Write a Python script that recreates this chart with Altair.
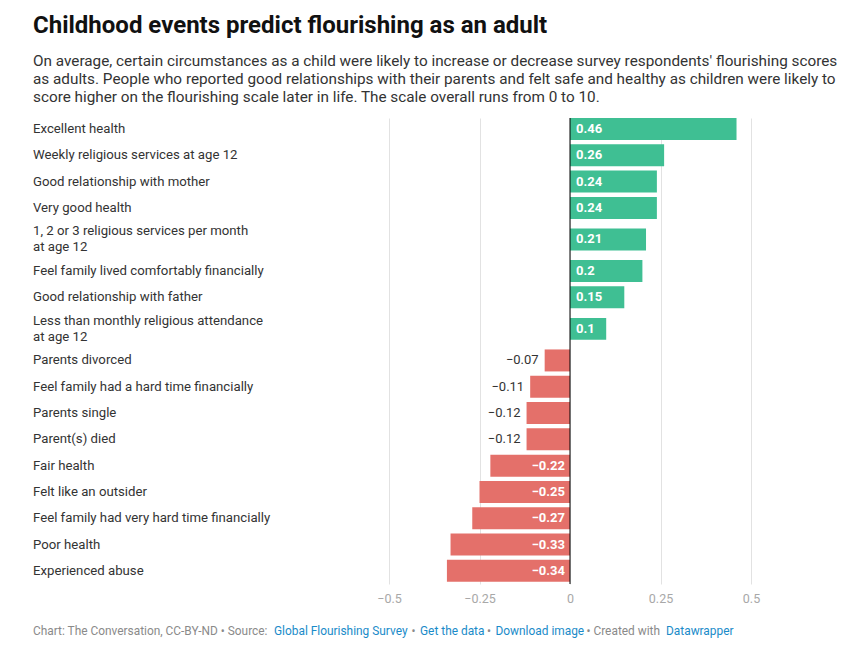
import altair as alt
import pandas as pd

# ---------------- data ----------------
categories = [
    "Excellent health",
    "Weekly religious services at age 12",
    "Good relationship with mother",
    "Very good health",
    "1, 2 or 3 religious services per month\nat age 12",
    "Feel family lived comfortably financially",
    "Good relationship with father",
    "Less than monthly religious attendance\nat age 12",
    "Parents divorced",
    "Feel family had a hard time financially",
    "Parents single",
    "Parent(s) died",
    "Fair health",
    "Felt like an outsider",
    "Feel family had very hard time financially",
    "Poor health",
    "Experienced abuse",
]
values = [0.46, 0.26, 0.24, 0.24, 0.21, 0.2, 0.15, 0.1,
          -0.07, -0.11, -0.12, -0.12, -0.22, -0.25, -0.27, -0.33, -0.34]
x_ticks = [-0.5, -0.25, 0, 0.25, 0.5]

title_text = "Childhood events predict flourishing as an adult"
subtitle_lines = [
    "On average, certain circumstances as a child were likely to increase or decrease survey respondents' flourishing scores",
    "as adults. People who reported good relationships with their parents and felt safe and healthy as children were likely to",
    "score higher on the flourishing scale later in life. The scale overall runs from 0 to 10.",
]
footer_texts = [
    "Chart: The Conversation, CC-BY-ND \u2022 Source:",
    "Global Flourishing Survey",
    "\u2022",
    "Get the data",
    "\u2022",
    "Download image",
    "\u2022 Created with",
    "Datawrapper",
]

# ---------------- styling / layout ----------------
FONT = "Roboto"
GREEN = "#3fbf93"
RED = "#e4706a"
GRAY_TEXT = "#8a8a8a"
LINK = "#1a8bc9"
PLOT_X0, PLOT_Y0 = 389, 118  # page position of the plot origin
W, H = 362, 466
FOOTER_Y = 635
SVG_H = 631
EXTRA_LINE = 0.4    # extra row height (in row units) per additional label line
BAR_HALF = 0.418    # half bar thickness in row units
LINE_H = 16

footer_layout = [  # (page x, colour) for each footer piece
    (33, GRAY_TEXT), (274, LINK), (411.5, GRAY_TEXT), (420, LINK),
    (487, GRAY_TEXT), (495.5, LINK), (586.5, GRAY_TEXT), (666, LINK),
]

df = pd.DataFrame({"cat": categories, "value": values})
total_units = sum(1 + EXTRA_LINE * c.count("\n") for c in categories)

y_scale = alt.Scale(domain=[0.5 - BAR_HALF, total_units], reverse=True, nice=False, zero=False)

base = alt.Chart(df).transform_calculate(
    nlines="length(split(datum.cat, '\\n'))",
).transform_calculate(
    h=f"1 + {EXTRA_LINE} * (datum.nlines - 1)",
).transform_window(
    cum="sum(h)", frame=[None, 0],
).transform_calculate(
    center="datum.cum - datum.h / 2",
    top=f"datum.cum - datum.h / 2 - {BAR_HALF}",
    bottom=f"datum.cum - datum.h / 2 + {BAR_HALF}",
)

x_enc = alt.X(
    "value:Q",
    scale=alt.Scale(domain=[-0.5, 0.5], nice=False, zero=False),
    axis=alt.Axis(
        title=None, values=x_ticks, grid=True, gridColor="#e2e2e2", gridWidth=1,
        domain=False, ticks=False, tickSize=0, labelFont=FONT, labelFontSize=12.5,
        labelColor="#a8a8a8", labelPadding=8, labelFlush=False, format=".2~f",
    ),
)
y_center = alt.Y("center:Q", scale=y_scale, axis=None)

bars = base.mark_bar().encode(
    x=x_enc,
    x2=alt.datum(0),
    y=alt.Y("top:Q", scale=y_scale, axis=None),
    y2="bottom:Q",
    color=alt.condition("datum.value >= 0", alt.value(GREEN), alt.value(RED)),
)

cat_labels_1 = base.transform_filter("datum.nlines == 1").mark_text(
    align="left", baseline="middle", font=FONT, fontSize=13.2, color="#333333",
).encode(x=alt.value(33 - PLOT_X0), y=y_center, text="cat:N")

cat_labels_2 = base.transform_filter("datum.nlines > 1").mark_text(
    align="left", baseline="middle", font=FONT, fontSize=13.2, color="#333333",
    lineBreak="\n", lineHeight=LINE_H, dy=-LINE_H / 2,
).encode(x=alt.value(33 - PLOT_X0), y=y_center, text="cat:N")

pos_labels = base.transform_filter("datum.value >= 0").mark_text(
    align="left", dx=6, font=FONT, fontSize=13, fontWeight="bold", color="white"
).encode(x=alt.datum(0), y=y_center, text=alt.Text("value:Q", format=".2~f"))

neg_in_labels = base.transform_filter("datum.value < -0.15").mark_text(
    align="right", dx=-5, font=FONT, fontSize=13, fontWeight="bold", color="white"
).encode(x=alt.datum(0), y=y_center, text=alt.Text("value:Q", format=".2~f"))

neg_out_labels = base.transform_filter("datum.value < 0 && datum.value >= -0.15").mark_text(
    align="right", dx=-6, font=FONT, fontSize=13, color="#333333"
).encode(x="value:Q", y=y_center, text=alt.Text("value:Q", format=".2~f"))

zero_rule = alt.Chart(pd.DataFrame({"z": [0]})).mark_rule(
    color="#000000", strokeWidth=1
).encode(x="z:Q")

title = alt.Chart(pd.DataFrame({"t": [title_text]})).mark_text(
    align="left", baseline="alphabetic", font=FONT, fontSize=24,
    fontWeight="bold", color="#111111"
).encode(x=alt.value(33 - PLOT_X0), y=alt.value(33 - PLOT_Y0), text="t:N")

subtitle = alt.Chart(pd.DataFrame({"t": ["\n".join(subtitle_lines)]})).mark_text(
    align="left", baseline="alphabetic", font=FONT, fontSize=15.3,
    color="#333333", lineBreak="\n", lineHeight=18
).encode(x=alt.value(33 - PLOT_X0), y=alt.value(66 - PLOT_Y0), text="t:N")

footer_layers = []
for txt, (fx, col) in zip(footer_texts, footer_layout):
    footer_layers.append(
        alt.Chart(pd.DataFrame({"t": [txt]})).mark_text(
            align="left", baseline="alphabetic", font=FONT, fontSize=11.9, color=col
        ).encode(x=alt.value(fx - PLOT_X0), y=alt.value(FOOTER_Y - PLOT_Y0), text="t:N")
    )

chart = alt.layer(
    bars, cat_labels_1, cat_labels_2, pos_labels, neg_in_labels, neg_out_labels,
    zero_rule, title, subtitle, *footer_layers
).properties(
    width=W, height=H,
    autosize=alt.AutoSizeParams(type="none"),
    padding={"left": PLOT_X0 - 8, "top": PLOT_Y0 - 8, "right": 90,
             "bottom": SVG_H - (PLOT_Y0 - 8) - H},
    background="white",
).configure_view(stroke=None)

chart.save("out.html", embed_options={"renderer": "svg", "actions": False})
